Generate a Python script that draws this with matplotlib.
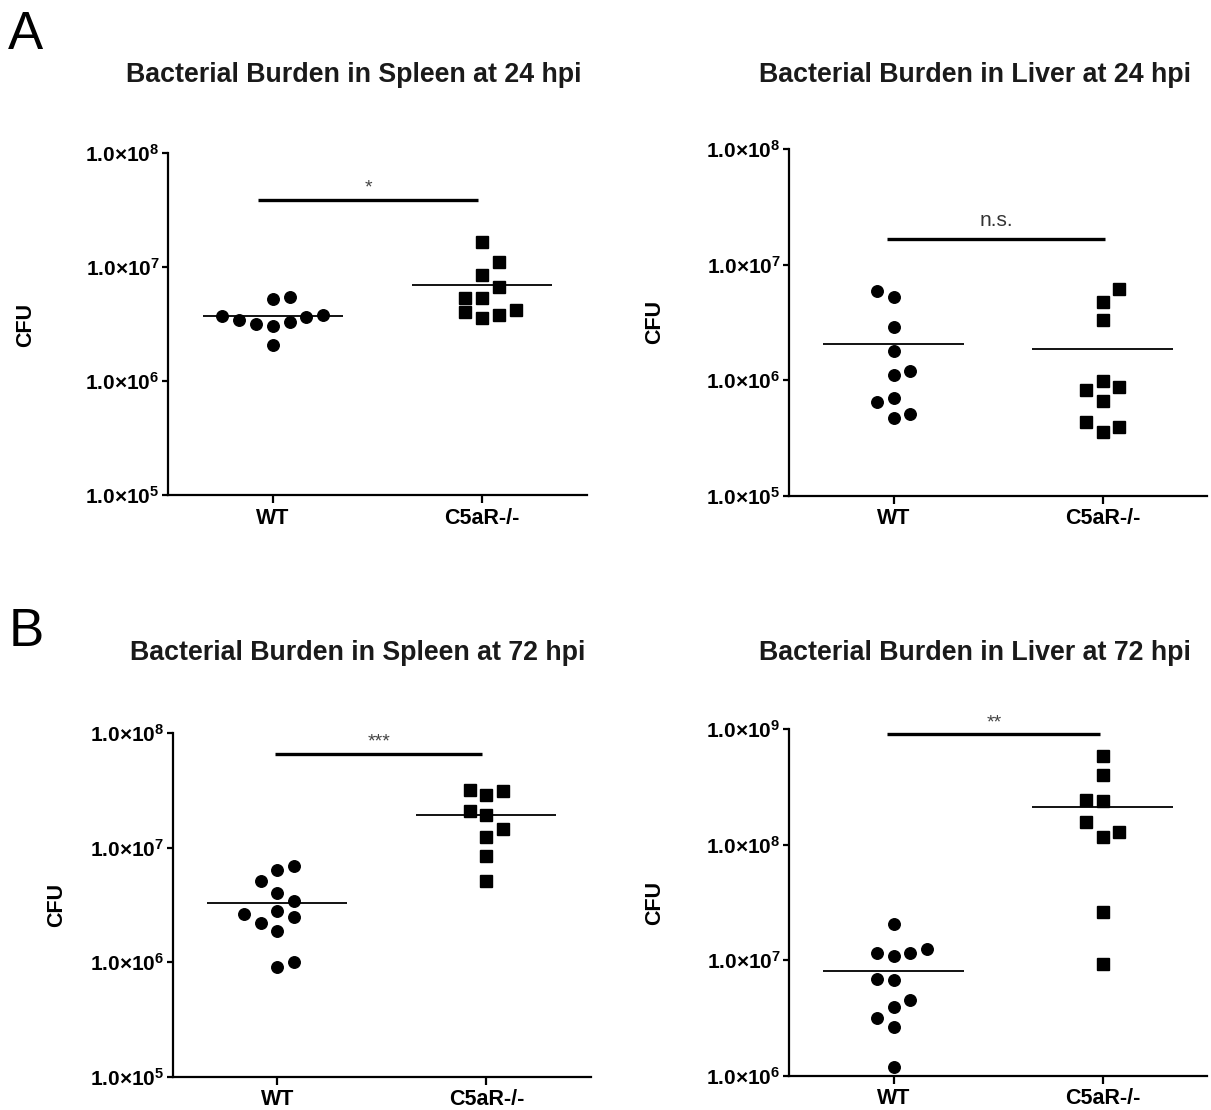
import matplotlib
matplotlib.use("Agg")
import matplotlib.pyplot as plt
import numpy as np

plt.rcParams['font.family'] = ['Liberation Sans', 'DejaVu Sans']
plt.rcParams['mathtext.fontset'] = 'custom'
plt.rcParams['mathtext.rm'] = 'Liberation Sans'
plt.rcParams['mathtext.bf'] = 'Liberation Sans:bold'

# ---------------- data ----------------
groups = ["WT", "C5aR-/-"]
titles = ["Bacterial Burden in Spleen at 24 hpi",
          "Bacterial Burden in Liver at 24 hpi",
          "Bacterial Burden in Spleen at 72 hpi",
          "Bacterial Burden in Liver at 72 hpi"]
sig_labels = ["*", "n.s.", "***", "**"]

# Spleen 24 hpi
spl24_wt = [3.73e6, 3.42e6, 3.13e6, 5.18e6, 3.03e6, 2.07e6, 5.47e6, 3.26e6, 3.61e6, 3.78e6]
spl24_ko = [1.66e7, 1.11e7, 8.46e6, 6.68e6, 5.28e6, 5.28e6, 3.99e6, 3.53e6, 3.78e6, 4.18e6]
spl24_mean = [3.73e6, 6.96e6]
spl24_bar = 3.88e7

# Liver 24 hpi
liv24_wt = [5.91e6, 5.24e6, 2.88e6, 1.78e6, 1.11e6, 1.21e6, 6.44e5, 7.03e5, 4.71e5, 5.11e5]
liv24_ko = [6.15e6, 4.74e6, 3.33e6, 9.8e5, 8.25e5, 8.69e5, 6.58e5, 4.33e5, 3.91e5, 3.54e5]
liv24_mean = [2.04e6, 1.87e6]
liv24_bar = 1.68e7

# Spleen 72 hpi
spl72_wt = [6.34e6, 6.87e6, 5.11e6, 4.01e6, 3.46e6, 2.65e6, 2.83e6, 2.48e6, 2.19e6, 1.89e6, 9.17e5, 1.0e6]
spl72_ko = [3.17e7, 2.91e7, 3.11e7, 2.08e7, 1.92e7, 1.45e7, 1.24e7, 8.4e6, 5.11e6]
spl72_mean = [3.32e6, 1.92e7]
spl72_bar = 6.64e7

# Liver 72 hpi
liv72_wt = [2.04e7, 1.16e7, 1.08e7, 1.16e7, 1.25e7, 6.89e6, 6.71e6, 4.5e6, 3.94e6, 3.16e6, 2.64e6, 1.2e6]
liv72_ko = [5.91e8, 4.02e8, 2.44e8, 2.39e8, 1.58e8, 1.28e8, 1.17e8, 2.62e7, 9.36e6]
liv72_mean = [8.09e6, 2.13e8]
liv72_bar = 9.12e8

# y-axis decades (exponents)
spl24_dec = [5, 6, 7, 8]
liv24_dec = [5, 6, 7, 8]
spl72_dec = [5, 6, 7, 8]
liv72_dec = [6, 7, 8, 9]

# ---------------- layout (scatter column offsets, in marker steps) ----------------
spl24_wt_off = [-3, -2, -1, 0, 0, 0, 1, 1, 2, 3]
spl24_ko_off = [0, 1, 0, 1, -1, 0, -1, 0, 1, 2]
liv24_wt_off = [-1, 0, 0, 0, 0, 1, -1, 0, 0, 1]
liv24_ko_off = [1, 0, 0, 0, -1, 1, 0, -1, 1, 0]
spl72_wt_off = [0, 1, -1, 0, 1, -2, 0, 1, -1, 0, 0, 1]
spl72_ko_off = [-1, 0, 1, -1, 0, 1, 0, 0, 0]
liv72_wt_off = [0, -1, 0, 1, 2, -1, 0, 1, 0, -1, 0, 0]
liv72_ko_off = [0, 0, -1, 0, -1, 1, 0, 0, 0]

panels = [
    dict(wt=spl24_wt, ko=spl24_ko, wto=spl24_wt_off, koo=spl24_ko_off, mean=spl24_mean,
         bar=spl24_bar, dec=spl24_dec, rect=[168, 152.7, 587, 495.0], barx=(-0.07, 0.98),
         title_xy=(354, 75), cfu_xy=(26, 325)),
    dict(wt=liv24_wt, ko=liv24_ko, wto=liv24_wt_off, koo=liv24_ko_off, mean=liv24_mean,
         bar=liv24_bar, dec=liv24_dec, rect=[789, 149.3, 1207, 495.7], barx=(-0.03, 1.01),
         title_xy=(975, 75), cfu_xy=(655, 322)),
    dict(wt=spl72_wt, ko=spl72_ko, wto=spl72_wt_off, koo=spl72_ko_off, mean=spl72_mean,
         bar=spl72_bar, dec=spl72_dec, rect=[172.7, 733.3, 591, 1076.7], barx=(-0.01, 0.98),
         title_xy=(358, 653), cfu_xy=(57, 905)),
    dict(wt=liv72_wt, ko=liv72_ko, wto=liv72_wt_off, koo=liv72_ko_off, mean=liv72_mean,
         bar=liv72_bar, dec=liv72_dec, rect=[789, 729.3, 1207, 1075.7], barx=(-0.03, 0.99),
         title_xy=(975, 653), cfu_xy=(655, 903)),
]

W, H = 1211, 1110
fig = plt.figure(figsize=(W / 100, H / 100), dpi=100)
step = 0.08

for p, title, sig in zip(panels, titles, sig_labels):
    x0, y0, x1, y1 = p['rect']
    ax = fig.add_axes([x0 / W, 1 - y1 / H, (x1 - x0) / W, (y1 - y0) / H])
    ax.set_yscale('log')
    ax.set_xlim(-0.5, 1.5)
    ax.set_ylim(10.0 ** p['dec'][0], 10.0 ** p['dec'][-1])
    for s in ['top', 'right']:
        ax.spines[s].set_visible(False)
    for s in ['left', 'bottom']:
        ax.spines[s].set_linewidth(1.6)
    ax.minorticks_off()
    ax.set_yticks([10.0 ** d for d in p['dec']])
    ax.set_yticklabels([r'$\mathbf{1.0{\times}10^{%d}}$' % d for d in p['dec']])
    ax.set_xticks([0, 1])
    ax.set_xticklabels(groups, fontweight='bold', fontsize=15.5)
    ax.tick_params(axis='y', length=4, width=1.6, pad=2, labelsize=15)
    ax.tick_params(axis='x', length=6, width=1.6, pad=3)

    ax.plot(np.array(p['wto']) * step + 0, p['wt'], 'o', color='black',
            markersize=8.3, linestyle='none', clip_on=False)
    ax.plot(np.array(p['koo']) * step + 1, p['ko'], 's', color='black',
            markersize=8.0, linestyle='none', clip_on=False)
    for i, m in enumerate(p['mean']):
        ax.hlines(m, i - 0.335, i + 0.335, color='black', linewidth=1.3)
    bx0, bx1 = p['barx']
    ax.hlines(p['bar'], bx0, bx1, color='black', linewidth=2.4)
    if sig == 'n.s.':
        ax.annotate(sig, xy=((bx0 + bx1) / 2, p['bar']), xytext=(0, 6),
                    textcoords='offset points', ha='center', va='bottom',
                    fontsize=15, color='#333333')
    else:
        ax.annotate(sig, xy=((bx0 + bx1) / 2, p['bar']), xytext=(0, 2),
                    textcoords='offset points', ha='center', va='bottom',
                    fontsize=14, color='#444444')

    tx, ty = p['title_xy']
    fig.text(tx / W, 1 - ty / H, title, ha='center', va='center',
             fontsize=19.3, fontweight='bold', color='#1a1a1a')
    cx, cy = p['cfu_xy']
    fig.text(cx / W, 1 - cy / H, "CFU", ha='center', va='center', rotation=90,
             fontsize=15.5, fontweight='bold')

fig.text(8 / W, 1 - 35 / H, "A", ha='left', va='center', fontsize=38)
fig.text(9 / W, 1 - 632 / H, "B", ha='left', va='center', fontsize=38)

fig.savefig("out.png", dpi=100, facecolor='white')
